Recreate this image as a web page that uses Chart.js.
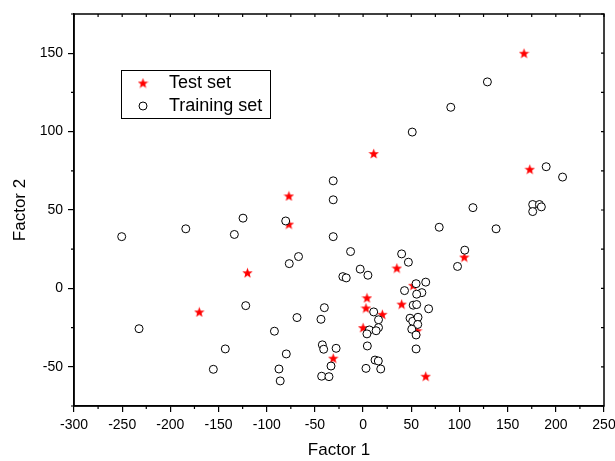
<!DOCTYPE html>
<html>
<head>
<meta charset="utf-8">
<script src="https://cdn.jsdelivr.net/npm/chart.js@4.4.0/dist/chart.umd.min.js"></script>
<style>
  html, body { margin: 0; padding: 0; background: #fff; }
  #wrap { width: 615px; height: 461px; }
</style>
</head>
<body>
<div id="wrap"><canvas id="scatter" width="615" height="461"></canvas></div>
<script>
// test set (red stars)
const testX = [167, 11, 173, -77, -77, -120, -170, 105, 35, 4, 3, 40, 20, 0, -31, 65, 52, 56];
const testY = [150, 86, 76, 59, 41, 10, -15, 20, 13, -6, -12.5, -10, -16.5, -25, -44.5, -56, 2, -27];

// training set (open circles)
const trainX = [-31, -31, 129, 91, 51, 190, 207, 114, 176, 176, 183, 185, 79, 138, -31, -13, 40, 47,
  105.5, 98, -3, 5, -21, -17.5, 55, 65, 61, 55.6, 43, 52, 55.6, 68, 11, 16, 16, 6.5, 13.5, 4,
  48.7, 51.5, 57, 56.7, 50.5, 55, 55, 4.4, 12.4, 15.8, 3, 18.3,
  -250.5, -184, -124.6, -133.6, -80.3, -67, -76.6, -121.8, -232.5, -68.6, -43.7, -40.2, -92,
  -143, -79.7, -42.3, -40.9, -28, -33.3, -155.4, -87.3, -86, -43, -35.4];
const trainY = [68.6, 56.5, 131.7, 115.5, 99.7, 77.6, 71, 51.5, 53.5, 49, 53.5, 52, 39, 38, 33, 23.5, 22, 16.7,
  24.4, 14, 12.3, 8.4, 7.5, 6.7, 3, 4, -2.7, -3.7, -1.4, -10.7, -10.3, -13, -15, -20, -25, -26.5, -27, -29,
  -19, -21, -18.4, -23, -26, -29.7, -38.6, -36.7, -45.7, -46.3, -51, -51.4,
  33, 38, 44.8, 34.4, 43, 20.3, 15.8, -11, -25.7, -18.6, -19.7, -12.3, -27.3,
  -38.6, -41.8, -36, -38.8, -38.2, -49.5, -51.6, -51.4, -59, -56, -56.3];

const xTicks = [-300, -250, -200, -150, -100, -50, 0, 50, 100, 150, 200, 250];
const yTicks = [-50, 0, 50, 100, 150];
const seriesNames = ['Test set', 'Training set'];

const FONT = '"Liberation Sans", Arial, sans-serif';

function makeStar(size, color) {
    const c = document.createElement('canvas');
    c.width = size; c.height = size;
    const g = c.getContext('2d');
    const cx = size / 2, cy = size / 2 + 0.5, ro = size / 2, ri = ro * 0.42;
    g.beginPath();
    for (let i = 0; i < 10; i++) {
        const r = i % 2 ? ri : ro;
        const a = -Math.PI / 2 + i * Math.PI / 5;
        g.lineTo(cx + r * Math.cos(a), cy + r * Math.sin(a));
    }
    g.closePath();
    g.fillStyle = color;
    g.fill();
    return c;
}
const starImg = makeStar(11, '#ff0000');

function toPoints(xs, ys) {
    return xs.map((x, i) => ({x: x, y: ys[i]}));
}

// minor ticks, mirrored top/right axes and the inset legend
const framePlugin = {
    id: 'frame',
    afterDraw(chart) {
        const ctx = chart.ctx;
        const a = chart.chartArea;
        const sx = chart.scales.x, sy = chart.scales.y;
        ctx.save();
        ctx.strokeStyle = '#000';
        ctx.lineWidth = 1.5;
        ctx.strokeRect(a.left, a.top, a.right - a.left, a.bottom - a.top);

        ctx.lineWidth = 1.2;
        ctx.beginPath();
        for (let v = sx.min; v <= sx.max; v += 25) {
            const px = sx.getPixelForValue(v);
            if (v % 50 !== 0) { ctx.moveTo(px, a.bottom); ctx.lineTo(px, a.bottom + 3); }
            ctx.moveTo(px, a.top); ctx.lineTo(px, a.top + 3);
        }
        for (let v = sy.min; v <= sy.max; v += 25) {
            const py = sy.getPixelForValue(v);
            if (v % 50 !== 0) { ctx.moveTo(a.left, py); ctx.lineTo(a.left - 3, py); }
            ctx.moveTo(a.right, py); ctx.lineTo(a.right - 3, py);
        }
        ctx.stroke();

        // legend box
        const lx = a.left + 47, ly = a.top + 56, lw = 149, lh = 48;
        ctx.lineWidth = 1;
        ctx.strokeRect(lx + 0.5, ly + 0.5, lw, lh);
        ctx.drawImage(starImg, lx + 22 - 5.5, ly + 13 - 5.5);
        ctx.beginPath();
        ctx.arc(lx + 22, ly + 36, 4, 0, Math.PI * 2);
        ctx.fillStyle = '#fff';
        ctx.fill();
        ctx.stroke();
        ctx.fillStyle = '#000';
        ctx.font = '18px ' + FONT;
        ctx.textBaseline = 'middle';
        ctx.fillText(seriesNames[0], lx + 48, ly + 13);
        ctx.fillText(seriesNames[1], lx + 48, ly + 36);
        ctx.restore();
    }
};

new Chart(document.getElementById('scatter'), {
    type: 'scatter',
    data: {
        datasets: [{
            label: seriesNames[0],
            data: toPoints(testX, testY),
            pointStyle: starImg,
            order: 1
        }, {
            label: seriesNames[1],
            data: toPoints(trainX, trainY),
            pointStyle: 'circle',
            pointRadius: 4,
            borderWidth: 1,
            borderColor: '#000',
            backgroundColor: '#fff',
            order: 0
        }]
    },
    options: {
        responsive: false,
        animation: false,
        events: [],
        layout: {padding: {top: 14, right: 11, left: 0, bottom: 0}},
        plugins: {legend: {display: false}, tooltip: {enabled: false}},
        scales: {
            x: {
                type: 'linear',
                min: -300,
                max: 250,
                afterBuildTicks: s => { s.ticks = xTicks.map(v => ({value: v})); },
                afterFit: s => { s.height = 55; s.paddingRight = 0; s.paddingLeft = 0; },
                grid: {drawOnChartArea: false, tickLength: 6, color: '#000', lineWidth: 1.2},
                border: {display: true, color: '#000', width: 1.5},
                ticks: {color: '#000', padding: 5, maxRotation: 0, autoSkip: false,
                        font: {family: FONT, size: 14}},
                title: {display: true, text: 'Factor 1', color: '#000', padding: {top: 0, bottom: 0},
                        font: {family: FONT, size: 17}}
            },
            y: {
                type: 'linear',
                min: -75,
                max: 175,
                afterBuildTicks: s => { s.ticks = yTicks.map(v => ({value: v})); },
                afterFit: s => { s.width = 74; },
                grid: {drawOnChartArea: false, tickLength: 6, color: '#000', lineWidth: 1.2},
                border: {display: true, color: '#000', width: 1.5},
                ticks: {color: '#000', padding: 5, font: {family: FONT, size: 14}},
                title: {display: true, text: 'Factor 2', color: '#000', padding: {top: 10, bottom: 0},
                        font: {family: FONT, size: 17}}
            }
        }
    },
    plugins: [framePlugin]
});
</script>
</body>
</html>
